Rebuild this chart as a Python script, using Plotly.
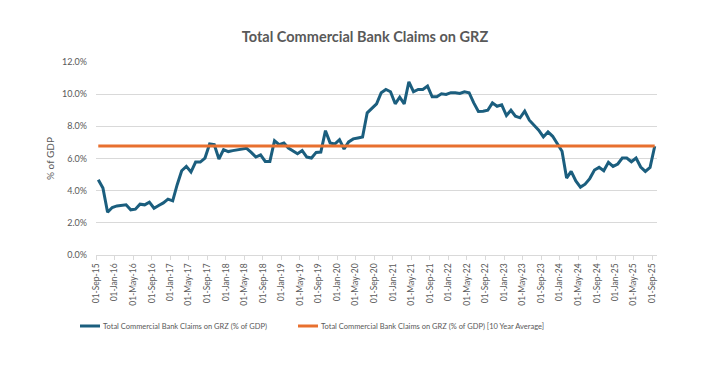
import plotly.graph_objects as go
import pandas as pd

# ---- data (monthly, Sep-2015 .. Sep-2025), % of GDP ----
start_month = "2015-09-01"
claims_pct_gdp = [
    4.68, 4.16, 2.66, 2.95, 3.05, 3.10, 3.12, 2.81, 2.85, 3.16,   # Sep15-Jun16
    3.12, 3.29, 2.91, 3.08, 3.24, 3.47, 3.37, 4.37, 5.24, 5.51,   # Jul16-Apr17
    5.16, 5.78, 5.78, 6.03, 6.90, 6.86, 5.97, 6.55, 6.43, 6.49,   # May17-Feb18
    6.55, 6.59, 6.63, 6.38, 6.09, 6.22, 5.82, 5.82, 7.11, 6.86,   # Mar18-Dec18
    6.97, 6.65, 6.45, 6.30, 6.49, 6.09, 6.03, 6.38, 6.40, 7.73,   # Jan19-Oct19
    6.97, 6.90, 7.17, 6.59, 7.03, 7.22, 7.28, 7.34, 8.84, 9.15,   # Nov19-Aug20
    9.40, 10.09, 10.29, 10.15, 9.40, 9.81, 9.40, 10.77, 10.15, 10.29,  # Sep20-Jun21
    10.29, 10.50, 9.84, 9.84, 10.02, 9.98, 10.09, 10.09, 10.04, 10.15, # Jul21-Apr22
    10.09, 9.46, 8.92, 8.94, 9.00, 9.46, 9.25, 9.34, 8.67, 9.00,  # May22-Feb23
    8.63, 8.53, 8.94, 8.38, 8.05, 7.76, 7.34, 7.65, 7.38, 6.95,   # Mar23-Dec23
    6.45, 4.78, 5.20, 4.60, 4.22, 4.40, 4.75, 5.28, 5.45, 5.24,   # Jan24-Oct24
    5.76, 5.51, 5.66, 6.03, 6.03, 5.80, 6.03, 5.47, 5.20, 5.45,   # Nov24-Aug25
    6.76,                                                        # Sep25
]
ten_year_average = 6.78

series_names = [
    "Total Commercial Bank Claims on GRZ (% of GDP)",
    "Total Commercial Bank Claims on GRZ (% of GDP) [10 Year Average]",
]
chart_title = "Total Commercial Bank Claims on GRZ"
y_title = "% of GDP"

dates = pd.date_range(start_month, periods=len(claims_pct_gdp), freq="MS")
tick_dates = dates[::4]
avg_values = [ten_year_average] * len(dates)

BLUE = "#1B5E7E"
ORANGE = "#E8702F"
TXT = "#595959"
GRID = "#D9D9D9"
FONT = "Lato"

W, H = 725, 366
L, R, T, B = 96, 68, 62, 111

fig = go.Figure()
fig.add_trace(go.Scatter(
    x=dates, y=claims_pct_gdp, mode="lines", name=series_names[0],
    line=dict(color=BLUE, width=3), xperiod="M1", xperiodalignment="middle",
))
fig.add_trace(go.Scatter(
    x=dates, y=avg_values, mode="lines", name=series_names[1],
    line=dict(color=ORANGE, width=3), xperiod="M1", xperiodalignment="middle",
))

def px_to_paper(px, py):
    return (px - L) / (W - L - R), (H - B - py) / (H - T - B)

# manual legend
shapes = []
annotations = []
for (x0, x1), name, col in [((80, 100), series_names[0], BLUE), ((298, 318), series_names[1], ORANGE)]:
    a0, yy = px_to_paper(x0, 326)
    a1, _ = px_to_paper(x1, 326)
    shapes.append(dict(type="line", xref="paper", yref="paper", x0=a0, x1=a1, y0=yy, y1=yy,
                       line=dict(color=col, width=3)))
    tx, _ = px_to_paper(x1 + 1, 326)
    annotations.append(dict(xref="paper", yref="paper", x=tx, y=yy, xanchor="left", yanchor="middle",
                            text=name, showarrow=False, font=dict(family=FONT, size=7.5, color=TXT)))

fig.update_layout(
    template="none",
    width=W, height=H,
    margin=dict(l=L, r=R, t=T, b=B, autoexpand=False),
    paper_bgcolor="white", plot_bgcolor="white",
    showlegend=False,
    title=dict(text=f"<b>{chart_title}</b>", x=365 / W, xanchor="center", y=1 - 37 / H, yanchor="middle",
               xref="container", yref="container", font=dict(family=FONT, size=14.5, color=TXT)),
    shapes=shapes, annotations=annotations,
    font=dict(family=FONT, color=TXT),
)
fig.update_xaxes(
    type="date", range=[dates[0], dates[-1] + pd.offsets.MonthBegin(1)],
    tickvals=tick_dates, tickformat="%d-%b-%y", tickangle=-90,
    tickfont=dict(family=FONT, size=8.5, color=TXT), automargin=False,
    showgrid=False, showline=True, linecolor=GRID, linewidth=1,
    ticks="outside", ticklen=4, tickcolor=GRID, zeroline=False,
)
fig.update_yaxes(
    range=[0, 12], dtick=2, tickformat=".1f", ticksuffix="%",
    tickfont=dict(family=FONT, size=9, color=TXT), automargin=False,
    showgrid=True, gridcolor=GRID, gridwidth=1, zeroline=False, showline=False, ticks="",
    ticklabelstandoff=8,
    title=dict(text=y_title, font=dict(family=FONT, size=10, color=TXT), standoff=5),
)

fig.write_html("out.html", config={"displayModeBar": False})

# remove the browser's default page margin so the figure sits at the window origin
with open("out.html", "r", encoding="utf-8") as f:
    html = f.read()
html = html.replace("<head>", "<head><style>html,body{margin:0;padding:0;}</style>", 1)
with open("out.html", "w", encoding="utf-8") as f:
    f.write(html)
